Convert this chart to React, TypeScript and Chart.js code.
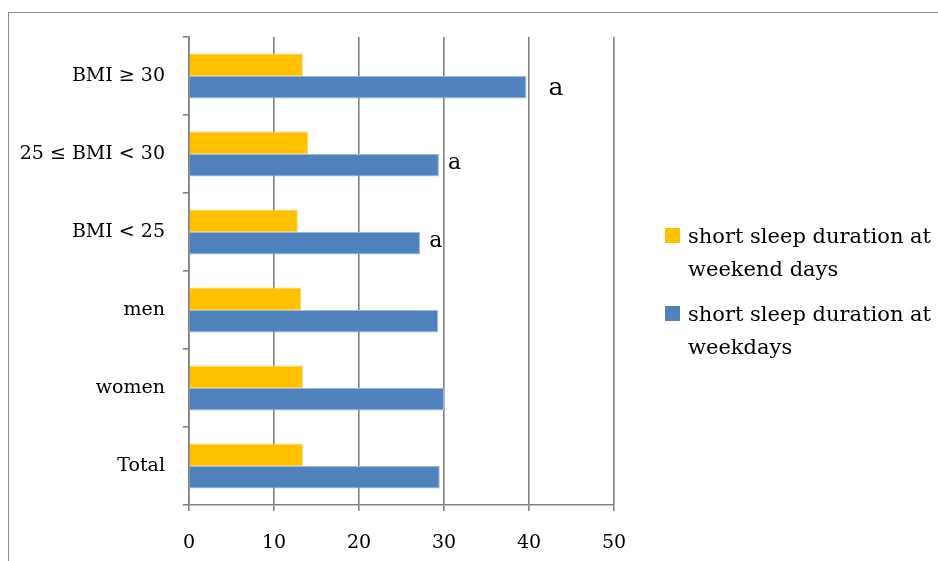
import React, { useEffect, useRef } from "react";
import { Chart, registerables } from "chart.js";

Chart.register(...registerables);

const categories = ["BMI ≥ 30", "25 ≤ BMI < 30", "BMI < 25", "men", "women", "Total"];
const weekendValues = [13.4, 14.0, 12.8, 13.2, 13.4, 13.4];
const weekdayValues = [39.7, 29.4, 27.2, 29.3, 30.0, 29.5];
const weekdayMarks = ["a", "a", "a", "", "", ""];
const seriesLabels = ["short sleep duration at weekend days", "short sleep duration at weekdays"];
const xTicks = [0, 10, 20, 30, 40, 50];

const FONT = "'DejaVu Serif', serif";
const GRID = "#808080";

function wrapText(ctx: CanvasRenderingContext2D, text: string, maxW: number): string[] {
  const words = text.split(" ");
  const lines: string[] = [];
  let cur = "";
  for (const w of words) {
    const test = cur ? cur + " " + w : w;
    if (ctx.measureText(test).width > maxW && cur) {
      lines.push(cur);
      cur = w;
    } else cur = test;
  }
  if (cur) lines.push(cur);
  return lines;
}

const legendPlugin = {
  id: "wrapLegend",
  afterDraw(chart: any) {
    const ctx: CanvasRenderingContext2D = chart.ctx;
    ctx.save();
    ctx.font = `21px ${FONT}`;
    ctx.textBaseline = "alphabetic";
    ctx.textAlign = "left";
    chart.data.datasets.forEach((ds: any, i: number) => {
      const top = 215 + i * 78;
      ctx.fillStyle = ds.backgroundColor;
      ctx.fillRect(656, top, 15, 15);
      ctx.fillStyle = "#000";
      const lines = wrapText(ctx, ds.label, 250);
      lines.forEach((ln, j) => ctx.fillText(ln, 679, top + 14.5 + j * 33));
    });
    ctx.restore();
  },
};

const marksPlugin = {
  id: "barMarks",
  afterDatasetsDraw(chart: any) {
    const ctx: CanvasRenderingContext2D = chart.ctx;
    const meta = chart.getDatasetMeta(1);
    ctx.save();
    ctx.fillStyle = "#000";
    ctx.textAlign = "left";
    ctx.textBaseline = "alphabetic";
    weekdayMarks.forEach((m, i) => {
      if (!m) return;
      const bar = meta.data[i];
      if (!bar) return;
      if (i === 0) {
        ctx.font = `25px ${FONT}`;
        ctx.fillText(m, bar.x + 22, bar.y + 8);
      } else {
        ctx.font = `22px ${FONT}`;
        ctx.fillText(m, bar.x + 9, bar.y + 3.5);
      }
    });
    ctx.restore();
  },
};

export default function App() {
  const ref = useRef<HTMLCanvasElement | null>(null);

  useEffect(() => {
    if (!ref.current) return;
    const chart = new Chart(ref.current, {
      type: "bar",
      data: {
        labels: categories,
        datasets: [
          {
            label: seriesLabels[0],
            data: weekendValues,
            backgroundColor: "#FFC000",
            borderColor: "#FFD65C",
            borderWidth: 1,
          },
          {
            label: seriesLabels[1],
            data: weekdayValues,
            backgroundColor: "#4F81BD",
            borderColor: "#9DB7DA",
            borderWidth: 1,
          },
        ],
      },
      options: {
        indexAxis: "y",
        animation: false,
        responsive: true,
        maintainAspectRatio: false,
        layout: { padding: { top: 24, left: 0, right: 324, bottom: 0 } },
        datasets: { bar: { categoryPercentage: 0.58, barPercentage: 1 } },
        plugins: {
          legend: { display: false },
          tooltip: { enabled: false },
        },
        scales: {
          x: {
            min: 0,
            max: 50,
            afterBuildTicks: (scale: any) => {
              scale.ticks = xTicks.map((v) => ({ value: v }));
            },
            afterFit: (scale: any) => {
              scale.height = 56;
              scale.paddingLeft = 0;
              scale.paddingRight = 0;
            },
            grid: { color: GRID, lineWidth: 1.6, tickLength: 6, drawTicks: true },
            border: { color: GRID, width: 1.6 },
            ticks: { color: "#000", padding: 21, font: { family: FONT, size: 19 } },
          },
          y: {
            afterFit: (scale: any) => {
              scale.width = 180;
              scale.paddingTop = 0;
              scale.paddingBottom = 0;
            },
            grid: {
              color: GRID,
              lineWidth: 1.6,
              drawOnChartArea: false,
              drawTicks: true,
              tickLength: 6,
              offset: true,
            },
            border: { color: GRID, width: 1.6 },
            ticks: { color: "#000", padding: 18, font: { family: FONT, size: 19 } },
          },
        },
      },
      plugins: [marksPlugin, legendPlugin],
    } as any);
    return () => chart.destroy();
  }, []);

  return (
    <div
      style={{
        position: "fixed",
        left: 8,
        top: 12,
        right: 0,
        bottom: 0,
        borderLeft: "1px solid #8c8c8c",
        borderTop: "1px solid #8c8c8c",
        background: "#fff",
      }}
    >
      <div style={{ position: "relative", width: "100%", height: "100%" }}>
        <canvas ref={ref} />
      </div>
    </div>
  );
}
